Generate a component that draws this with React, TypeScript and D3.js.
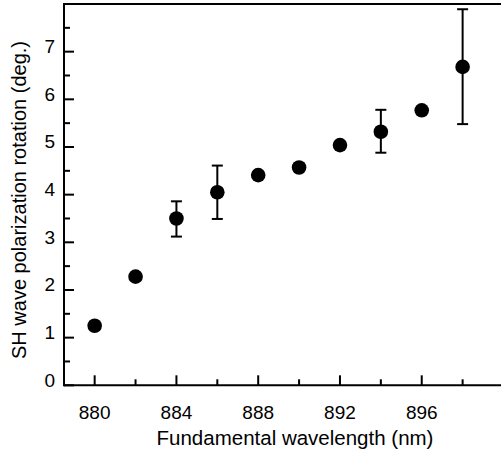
import React from "react";
import * as d3 from "d3";

const wavelengths = [880, 882, 884, 886, 888, 890, 892, 894, 896, 898];
const rotation = [1.25, 2.28, 3.5, 4.05, 4.41, 4.57, 5.04, 5.32, 5.77, 6.68];
const errLow = [null, null, 3.12, 3.49, null, null, null, 4.88, null, 5.48];
const errHigh = [null, null, 3.86, 4.61, null, null, null, 5.78, null, 7.89];
const xMajorTicks = [880, 884, 888, 892, 896];
const xMinorTicks = [882, 886, 890, 894, 898];
const yMajorTicks = [0, 1, 2, 3, 4, 5, 6, 7];
const yMinorTicks = [0.5, 1.5, 2.5, 3.5, 4.5, 5.5, 6.5, 7.5];
const xTitle = "Fundamental wavelength (nm)";
const yTitle = "SH wave polarization rotation (deg.)";

const W = 501;
const H = 455;
const left = 64;
const top = 4;
const bottom = 385.3;
const right = 503.5;
const font = "'Liberation Sans', Arial, sans-serif";

export default function App() {
  const x = d3.scaleLinear().domain([878.5, 900]).range([left, right]);
  const y = d3.scaleLinear().domain([0, 8]).range([bottom, top]);
  const sw = 2;
  return (
    <svg
      width={W}
      height={H}
      style={{ position: "absolute", left: 0, top: 0, background: "#fff" }}
      fontFamily={font}
    >
      <rect x={0} y={0} width={W} height={H} fill="#fff" />
      {/* frame */}
      <line x1={left} x2={right + 2} y1={bottom} y2={bottom} stroke="#000" strokeWidth={sw} />
      <line x1={left} x2={left} y1={bottom + 1} y2={top} stroke="#000" strokeWidth={sw} />
      <line x1={left - 1} x2={right + 2} y1={top} y2={top} stroke="#000" strokeWidth={sw} />
      <line x1={right} x2={right} y1={bottom} y2={top} stroke="#000" strokeWidth={sw} />
      {/* x ticks */}
      {xMajorTicks.map((t) => (
        <g key={"xm" + t}>
          <line x1={x(t)} x2={x(t)} y1={bottom} y2={bottom - 10} stroke="#000" strokeWidth={sw} />
          <text x={x(t)} y={418.5} textAnchor="middle" fontSize={19} fill="#000">
            {t}
          </text>
        </g>
      ))}
      {xMinorTicks.map((t) => (
        <line key={"xn" + t} x1={x(t)} x2={x(t)} y1={bottom} y2={bottom - 6} stroke="#000" strokeWidth={sw} />
      ))}
      {/* y ticks */}
      {yMajorTicks.map((t) => (
        <g key={"ym" + t}>
          <line x1={left} x2={left + 10} y1={y(t)} y2={y(t)} stroke="#000" strokeWidth={sw} />
          <text x={55} y={y(t) + 1.5} textAnchor="end" fontSize={19} fill="#000">
            {t}
          </text>
        </g>
      ))}
      {yMinorTicks.map((t) => (
        <line key={"yn" + t} x1={left} x2={left + 6} y1={y(t)} y2={y(t)} stroke="#000" strokeWidth={sw} />
      ))}
      {/* titles */}
      <text x={295} y={445} textAnchor="middle" fontSize={20.5} fill="#000">
        {xTitle}
      </text>
      <text
        transform={`translate(26,200) rotate(-90)`}
        textAnchor="middle"
        fontSize={20}
        fill="#000"
      >
        {yTitle}
      </text>
      {/* error bars */}
      {wavelengths.map((w, i) =>
        errLow[i] != null && errHigh[i] != null ? (
          <g key={"e" + w} stroke="#000" strokeWidth={sw}>
            <line x1={x(w)} x2={x(w)} y1={y(errLow[i] as number)} y2={y(errHigh[i] as number)} />
            <line x1={x(w) - 5.5} x2={x(w) + 5.5} y1={y(errLow[i] as number)} y2={y(errLow[i] as number)} />
            <line x1={x(w) - 5.5} x2={x(w) + 5.5} y1={y(errHigh[i] as number)} y2={y(errHigh[i] as number)} />
          </g>
        ) : null
      )}
      {/* points */}
      {wavelengths.map((w, i) => (
        <circle key={"p" + w} cx={x(w)} cy={y(rotation[i])} r={7.3} fill="#000" />
      ))}
    </svg>
  );
}
